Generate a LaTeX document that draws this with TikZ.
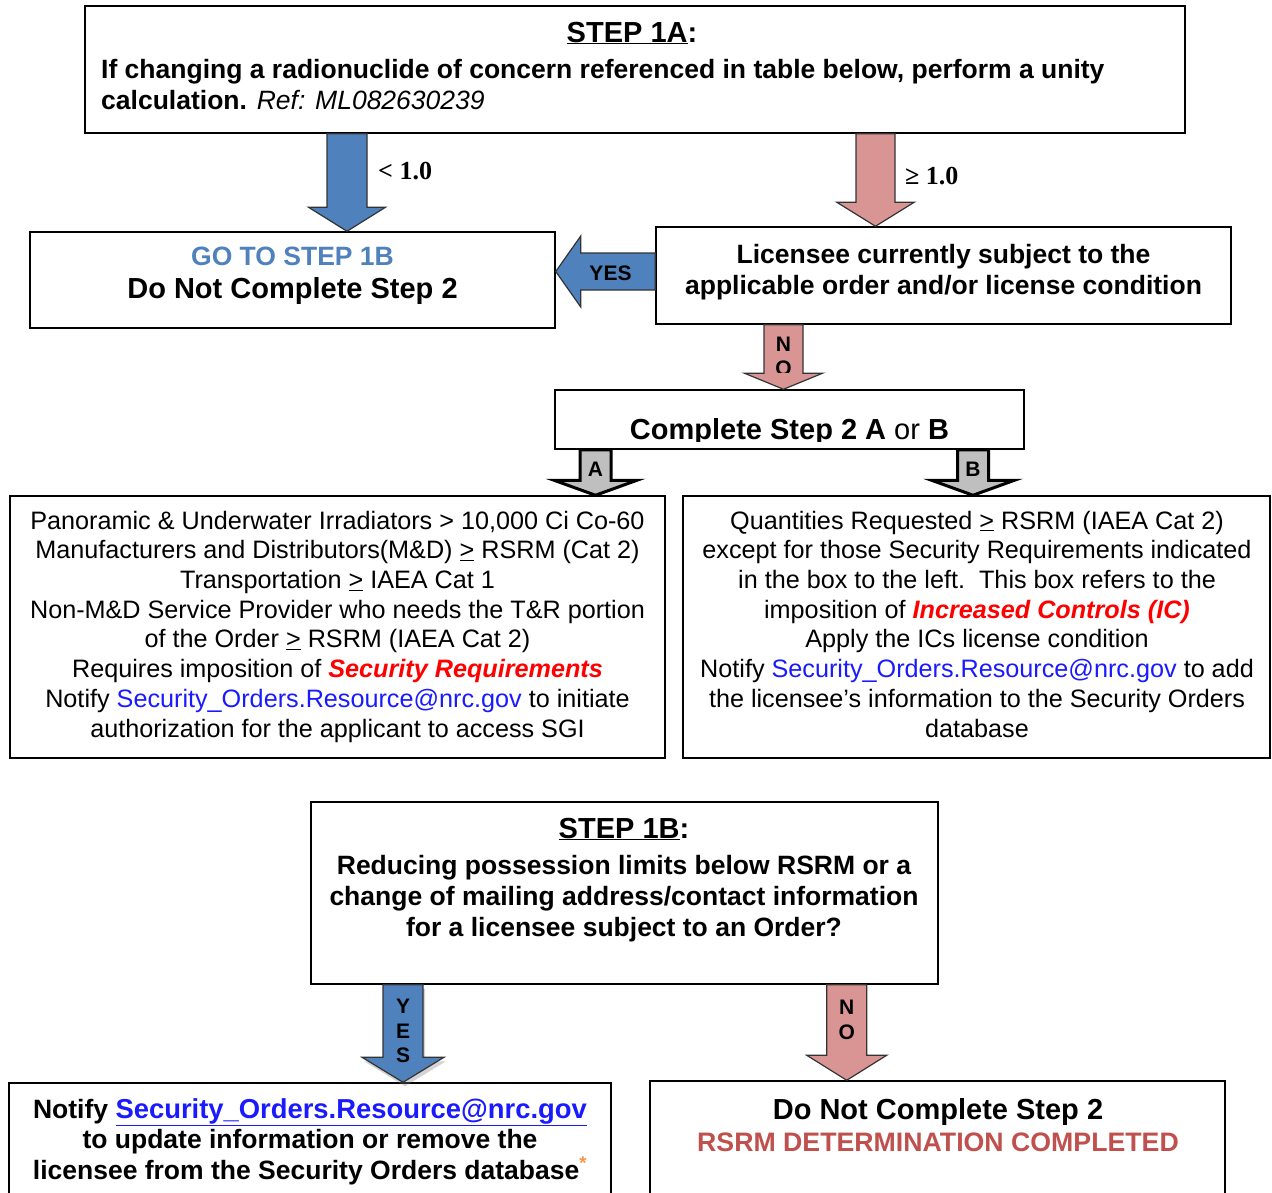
\documentclass[tikz,border=0pt]{standalone}
\usepackage{fontspec}
\setmainfont{Liberation Sans}
\newfontfamily\numserif{Liberation Serif}
\usetikzlibrary{calc}
\usetikzlibrary{shadows}

\definecolor{arrowblue}{HTML}{4F81BD}
\definecolor{arrowpink}{HTML}{D99594}
\definecolor{arrowgray}{HTML}{BFBFBF}
\definecolor{linkblue}{HTML}{1A1AFF}
\definecolor{gotitle}{HTML}{4F81BD}
\definecolor{rsrmred}{HTML}{C0504D}
\definecolor{starorange}{HTML}{F79646}
\definecolor{ctrlred}{HTML}{FF0000}

% block arrow pointing down: style, from, tip, shaft half, head half, head length
\newcommand{\blockdown}[6]{%
  \draw[#1] let \p1=(#2), \p2=(#3) in
    (\x2-#4,\y1) -- (\x2-#4,\y2+#6) -- (\x2-#5,\y2+#6) -- (\x2,\y2)
    -- (\x2+#5,\y2+#6) -- (\x2+#4,\y2+#6) -- (\x2+#4,\y1) -- cycle;}
% block arrow pointing left: style, from, tip, shaft half, head half, head length
\newcommand{\blockleft}[6]{%
  \draw[#1] let \p1=(#2), \p2=(#3) in
    (\x1,\y2-#4) -- (\x2+#6,\y2-#4) -- (\x2+#6,\y2-#5) -- (\x2,\y2)
    -- (\x2+#6,\y2+#5) -- (\x2+#6,\y2+#4) -- (\x1,\y2+#4) -- cycle;}

\tikzset{
  box/.style={draw, line width=1.5pt, inner sep=0pt},
  bodytext/.style={font=\fontsize{25.2}{29.7}\selectfont, align=center, anchor=base},
  boldtext/.style={font=\bfseries\fontsize{26.5}{31}\selectfont, align=center, anchor=base},
  titletext/.style={font=\bfseries\fontsize{29}{32}\selectfont, anchor=base},
  arrowtext/.style={font=\bfseries\fontsize{21}{24}\selectfont, anchor=base, inner sep=0pt},
  numtext/.style={font=\numserif\bfseries\fontsize{26}{28}\selectfont, anchor=base west, inner sep=0pt},
  bluearrow/.style={fill=arrowblue, draw=black!80, line width=1.2pt},
  pinkarrow/.style={fill=arrowpink, draw=black!80, line width=1.2pt},
  grayarrow/.style={fill=arrowgray, draw=black, line width=3pt},
}

\begin{document}
\begin{tikzpicture}[x=1pt, y=-1pt]

    \useasboundingbox (0,0) rectangle (1272,1192);
    \clip (0,0) rectangle (1272,1192);

    %%%%%%%%%%%%%%%%%%%%%%%%%%
    % Boxes
    %%%%%%%%%%%%%%%%%%%%%%%%%%
    \node[box, minimum width=1100pt, minimum height=127pt] (s1a) at (635,69.5) {};
    \node[box, minimum width=525pt, minimum height=96pt] (go1b) at (292.5,280) {};
    \node[box, minimum width=575pt, minimum height=97pt] (lic) at (943.5,275.5) {};
    \node[box, minimum width=469pt, minimum height=59pt] (cs2) at (789.5,419.5) {};
    \node[box, minimum width=655pt, minimum height=262pt] (boxa) at (337.5,627) {};
    \node[box, minimum width=587pt, minimum height=262pt] (boxb) at (976.5,627) {};
    \node[box, minimum width=627pt, minimum height=182pt] (s1b) at (624.5,893) {};
    \node[box, minimum width=602pt, minimum height=132pt] (notify) at (310,1149) {};
    \node[box, minimum width=575pt, minimum height=134pt] (done) at (937.5,1148) {};

    %%%%%%%%%%%%%%%%%%%%%%%%%%
    % Block arrows
    %%%%%%%%%%%%%%%%%%%%%%%%%%
    \blockdown{bluearrow}{s1a.south -| 347,0}{go1b.north -| 347,0}{20pt}{38.5pt}{24pt}
    \blockdown{pinkarrow}{s1a.south -| 875.5,0}{lic.north -| 875.5,0}{19.5pt}{38.7pt}{24pt}
    \blockleft{bluearrow}{lic.west |- 0,271.5}{go1b.east |- 0,271.5}{18.5pt}{35.5pt}{25pt}
    \blockdown{pinkarrow}{lic.south -| 783.5,0}{cs2.north -| 783.5,0}{19.5pt}{39pt}{16pt}
    \blockdown{grayarrow}{cs2.south -| 595.5,0}{boxa.north -| 595.5,0}{15.5pt}{41.5pt}{15pt}
    \blockdown{grayarrow}{cs2.south -| 973,0}{boxb.north -| 973,0}{15.5pt}{41.5pt}{15pt}
    \blockdown{bluearrow, drop shadow={shadow xshift=2pt, shadow yshift=-4pt, opacity=0.35}}{s1b.south -| 403,0}{notify.north -| 403,0}{20pt}{41pt}{25pt}
    \blockdown{pinkarrow}{s1b.south -| 846.7,0}{done.north -| 846.7,0}{20pt}{40pt}{25pt}

    %%%%%%%%%%%%%%%%%%%%%%%%%%
    % Arrow labels
    %%%%%%%%%%%%%%%%%%%%%%%%%%
    \node[numtext] (lt1) at (378,179) {< 1.0};
    \node[numtext] (ge1) at (905,184) {≥ 1.0};
    \node[arrowtext] (yes1) at (610.5,280) {YES};
    \node[arrowtext] (no1n) at (783.5,351) {N};
    \begin{scope}
        \clip (764,324) rectangle (803,372);
        \node[arrowtext] (no1o) at (783.5,375) {O};
    \end{scope}
    \node[arrowtext] (opta) at (595.5,476) {A};
    \node[arrowtext] (optb) at (973,476) {B};
    \node[arrowtext] (yes2y) at (403,1013) {Y};
    \node[arrowtext] (yes2e) at (403,1038) {E};
    \node[arrowtext] (yes2s) at (403,1062) {S};
    \node[arrowtext] (no2n) at (846.7,1014) {N};
    \node[arrowtext] (no2o) at (846.7,1039) {O};

    %%%%%%%%%%%%%%%%%%%%%%%%%%
    % Box texts (multi-line nodes sit on their last baseline)
    %%%%%%%%%%%%%%%%%%%%%%%%%%
    % step 1A
    \node[titletext] (s1atitle) at (632,42) {\underline{STEP 1A}:};
    \node[boldtext, align=left, anchor=base west, inner sep=0pt] (s1atext) at (101,109)
        {If changing a radionuclide of concern referenced in table below, perform a unity\\
         calculation. \mdseries\itshape Ref: ML082630239};

    % go to step 1B
    \node[boldtext, text=gotitle] (gotext) at (292.5,265) {GO TO STEP 1B};
    \node[titletext] (gonote) at (292.5,298) {Do Not Complete Step 2};

    % licensee
    \node[boldtext] (lictext) at (943.5,294)
        {Licensee currently subject to the\\ applicable order and/or license condition};

    % complete step 2
    \begin{scope}
        \clip (555,390) rectangle (1024,441);
        \node[titletext] (cs2text) at (789.5,439) {Complete Step 2 A {\mdseries or} B};
    \end{scope}

    % option A
    \node[bodytext] (atext) at (337.5,737)
        {Panoramic \& Underwater Irradiators > 10,000 Ci Co-60\\
         Manufacturers and Distributors(M\&D) \underline{>} RSRM (Cat 2)\\
         Transportation \underline{>} IAEA Cat 1\\
         Non-M\&D Service Provider who needs the T\&R portion\\
         of the Order \underline{>} RSRM (IAEA Cat 2)\\
         Requires imposition of \textcolor{ctrlred}{\bfseries\itshape Security Requirements}\\
         Notify \textcolor{linkblue}{Security\_Orders.Resource@nrc.gov} to initiate\\
         authorization for the applicant to access SGI};

    % option B
    \node[bodytext] (btext) at (977,737)
        {Quantities Requested \underline{>} RSRM (IAEA Cat 2)\\
         except for those Security Requirements indicated\\
         in the box to the left.\ \ This box refers to the\\
         imposition of \textcolor{ctrlred}{\bfseries\itshape Increased Controls (IC)}\\
         Apply the ICs license condition\\
         Notify \textcolor{linkblue}{Security\_Orders.Resource@nrc.gov} to add\\
         the licensee’s information to the Security Orders\\
         database};

    % step 1B
    \node[titletext] (s1btitle) at (624,838) {\underline{STEP 1B}:};
    \node[boldtext] (s1btext) at (624,936)
        {Reducing possession limits below RSRM or a\\
         change of mailing address/contact information\\
         for a licensee subject to an Order?};

    % notify
    \node[boldtext, font=\bfseries\fontsize{26.5}{30.5}\selectfont] (notifytext) at (310,1179)
        {Notify {\fontsize{27.4}{30.5}\selectfont\textcolor{linkblue}{\underline{Security\_Orders.Resource@nrc.gov}}}\\
         to update information or remove the\\
         licensee from the Security Orders database\textsuperscript{\textcolor{starorange}{*}}};

    % done
    \node[titletext] (donetext) at (938,1119) {Do Not Complete Step 2};
    \node[boldtext, font=\bfseries\fontsize{26.7}{30}\selectfont, text=rsrmred] (donenote) at (938,1151)
        {RSRM DETERMINATION COMPLETED};

\end{tikzpicture}
\end{document}
